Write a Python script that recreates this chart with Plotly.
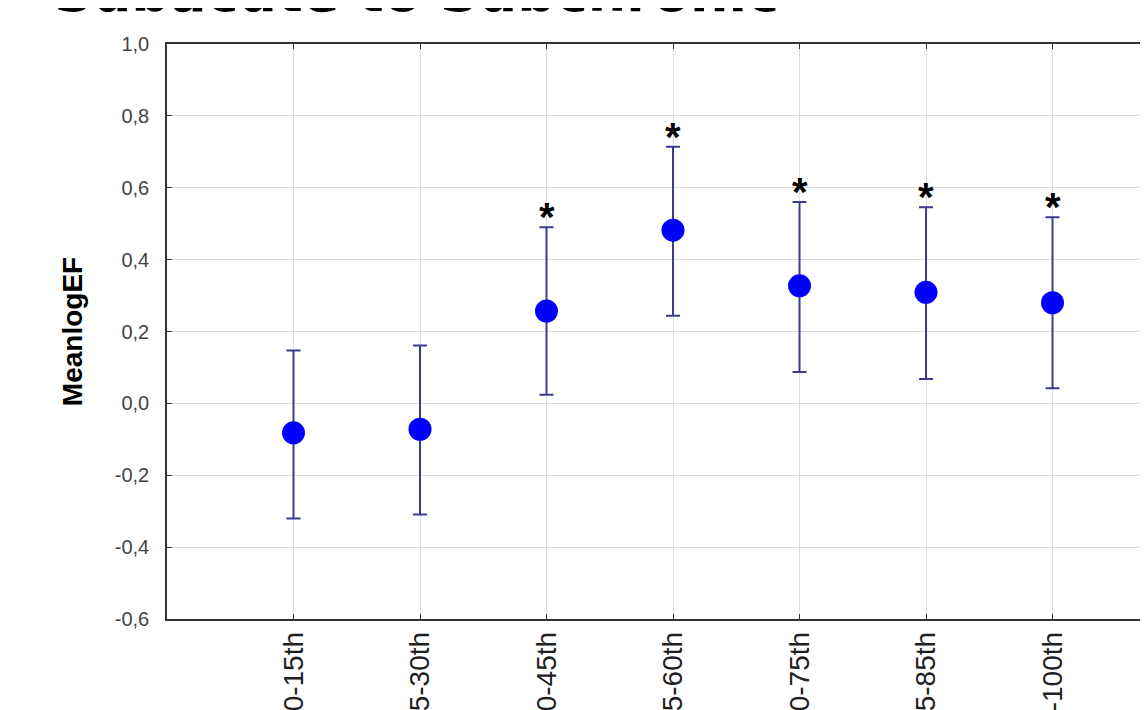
import plotly.graph_objects as go

categories = ["0-15th", "15-30th", "30-45th", "45-60th", "60-75th", "75-85th", "85-100th"]
means = [-0.082, -0.072, 0.257, 0.482, 0.327, 0.309, 0.280]
upper = [0.147, 0.161, 0.490, 0.714, 0.560, 0.546, 0.518]
lower = [-0.320, -0.309, 0.024, 0.244, 0.087, 0.068, 0.042]
significant = ["", "", "*", "*", "*", "*", "*"]
ytick_vals = [-0.6, -0.4, -0.2, 0.0, 0.2, 0.4, 0.6, 0.8, 1.0]
ytick_text = ["-0,6", "-0,4", "-0,2", "0,0", "0,2", "0,4", "0,6", "0,8", "1,0"]
title_text = "Subacute to Subchronic"
y_title = "MeanlogEF"

err_plus = [u - m for u, m in zip(upper, means)]
err_minus = [m - l for m, l in zip(means, lower)]

fig = go.Figure()
fig.add_trace(go.Scatter(
    x=categories, y=means, mode="markers",
    marker=dict(color="#0000ff", size=23, line=dict(width=0)),
    error_y=dict(type="data", symmetric=False, array=err_plus, arrayminus=err_minus,
                 color="#3c3c8f", thickness=2, width=7),
    showlegend=False,
))

for cat, up, mark in zip(categories, upper, significant):
    if mark:
        fig.add_annotation(
            x=cat, y=up, xref="x", yref="y", text="<b>" + mark + "</b>",
            showarrow=False, xanchor="center", yanchor="bottom", yshift=-14,
            font=dict(family="Liberation Sans", size=40, color="#000000"),
        )

fig.add_annotation(
    text="<b>" + title_text + "</b>", xref="paper", yref="paper",
    x=0.2518, y=1.031, xanchor="center", yanchor="bottom", showarrow=False,
    font=dict(family="DejaVu Sans", size=54, color="#000000"),
)

fig.update_layout(
    width=1148, height=710,
    margin=dict(l=159, r=0, t=36, b=99, autoexpand=False),
    paper_bgcolor="white", plot_bgcolor="white",
    xaxis=dict(
        type="category", categoryorder="array", categoryarray=categories,
        range=[-1, 6.818], showgrid=True, gridcolor="#dcdcdc", gridwidth=1,
        showline=True, linecolor="#333333", linewidth=1.5, mirror="ticks",
        ticks="inside", ticklen=5, tickcolor="#333333", tickwidth=1,
        tickangle=-90, automargin=False,
        tickfont=dict(family="Liberation Sans", size=28, color="#202020"),
        zeroline=False,
    ),
    yaxis=dict(
        range=[-0.6, 1.0], tickvals=ytick_vals, ticktext=ytick_text,
        showgrid=True, gridcolor="#dcdcdc", gridwidth=1,
        showline=True, linecolor="#333333", linewidth=1.5, mirror=False,
        ticks="inside", ticklen=5, tickcolor="#333333", tickwidth=1,
        ticklabelstandoff=12, automargin=False,
        tickfont=dict(family="Liberation Sans", size=20, color="#444444"),
        zeroline=False,
        title=dict(text="<b>" + y_title + "</b>", standoff=24,
                   font=dict(family="Liberation Sans", size=28, color="#000000")),
    ),
)

fig.write_html("out.html")
